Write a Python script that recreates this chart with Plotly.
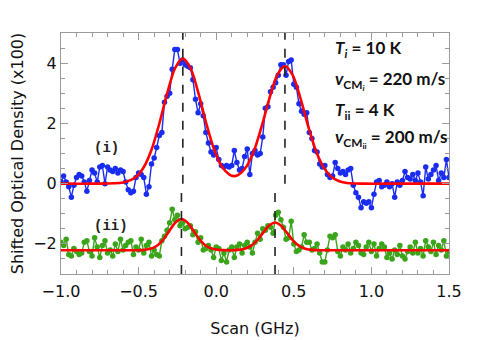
import plotly.graph_objects as go

# scan grid: -1.0 ... 1.5 GHz, 151 samples
X_START, X_STOP = -1.0, 1.5

# (i) measured optical density (x100)
od_i = [0.05, 0.25, 0.05, -0.1, -0.45, -0.05, 0.2, 0.3, 0.25, 0.05,
        -0.25, 0.1, 0.45, 0.35, 0.05, 0.55, 0.6, 0.0, 0.55, 0.45,
        0.4, 0.5, 0.35, 0.45, 0.4, 0.05, -0.2, -0.3, -0.25, 0.2,
        0.35, 0.3, 0.2, -0.35, -0.1,
        0.65, 0.85, 1.2, 1.6, 1.7, 2.7, 2.9, 3.0, 3.8, 4.45,
        4.45, 4.0, 4.1, 3.95, 3.9, 3.85, 3.45, 2.8, 2.35, 2.65,
        2.25, 1.7, 1.35, 1.05, 0.95, 1.2, 0.8, 0.6, 0.55, 0.6,
        0.55, 0.6, 1.1, 0.7, 0.45,
        0.5, 0.9, 1.15, 0.3, 1.0, 1.1, 0.95, 1.0, 1.55, 2.5,
        2.55, 3.05, 3.2, 3.35, 3.6, 3.95, 3.95, 3.6, 4.05, 4.1,
        3.3, 3.2, 2.65, 2.4, 2.3, 2.35, 1.7, 1.5, 1.1, 1.05,
        0.65, 0.55, 0.6, 0.3, 0.2,
        0.25, 0.7, 0.5, 0.35, 0.4, 0.3, 0.45, 0.5, -0.05, -0.3,
        -0.45, -0.8, -0.6, -0.65, -0.6, -0.8, -0.35, 0.05, 0.1, -0.1,
        -0.05, 0.05, -0.1, 0.0, -0.45, 0.05, -0.05, 0.1, 0.4, 0.2,
        0.15, 0.3, 0.1, 0.35, 0.05, -0.4, 0.55, 0.15, 0.3, 0.45,
        0.6, 0.1, 0.35, 0.2, 0.8, 0.2]

# (ii) measured optical density, shifted by -2.2
od_ii = [-1.95, -2.05, -1.85, -2.35, -2.4, -2.15, -2.25, -2.35, -2.3, -1.95,
         -1.9, -2.25, -2.4, -1.8, -2.1, -2.45, -2.05, -1.9, -2.3, -2.2,
         -2.4, -2.0, -2.25, -1.85, -2.2, -2.05, -1.95, -1.9, -2.35, -2.1,
         -2.2, -1.85, -2.3, -2.05, -1.95, -2.4,
         -2.2, -2.35, -2.4, -1.9, -1.75, -1.55, -1.3, -0.85, -1.2, -1.05,
         -1.4, -1.3, -1.5, -1.45, -1.4, -1.7, -1.6, -1.95, -1.8, -2.2,
         -2.15, -2.05, -2.2, -2.45, -2.1, -2.15, -2.55, -2.3, -2.6, -2.2,
         -2.1, -2.45, -2.1, -2.0, -2.3, -2.05, -1.95, -2.1, -2.3, -1.95,
         -1.65, -1.85, -1.5, -1.55, -1.4, -1.45, -1.65, -1.05, -0.95, -1.2,
         -1.45, -1.85, -1.8, -1.25, -2.0, -2.25, -2.2, -2.1, -1.7, -1.95,
         -1.95, -2.2, -2.15, -2.0, -2.3, -2.6, -2.6, -2.2, -1.75, -1.8,
         -1.7, -2.25, -2.4, -2.1,
         -2.2, -2.0, -2.3, -2.15, -1.95, -2.05, -2.3, -2.35, -2.1, -1.95,
         -2.25, -2.0, -2.4, -2.15, -2.0, -2.1, -2.45, -2.3, -2.5, -2.2,
         -2.35, -2.05, -2.4, -2.5, -2.25, -2.1, -2.3, -1.95, -2.3, -2.15,
         -2.4, -1.9, -2.1, -2.25, -1.95, -2.35, -2.05, -2.2, -1.9, -2.4,
         -2.25]

# fitted curves
fit_i_x = [-1.0, -0.8, -0.6, -0.515, -0.465, -0.415, -0.365, -0.315, -0.265, -0.215,
           -0.165, -0.115, -0.065, -0.015, 0.035, 0.085, 0.114, 0.143, 0.193, 0.243,
           0.293, 0.343, 0.393, 0.443, 0.493, 0.543, 0.593, 0.643, 0.693, 0.743,
           0.793, 0.843, 0.95, 1.2, 1.5]
fit_i_y = [0.0, 0.0, 0.04, 0.23, 0.56, 1.15, 2.02, 3.01, 3.83, 4.15,
           3.83, 3.01, 2.02, 1.16, 0.58, 0.30, 0.25, 0.29, 0.55, 1.08,
           1.90, 2.83, 3.60, 3.90, 3.60, 2.83, 1.90, 1.08, 0.53, 0.22,
           0.08, 0.02, 0.0, 0.0, 0.0]

fit_ii_x = [-1.0, -0.75, -0.5, -0.464, -0.424, -0.384, -0.344, -0.304, -0.264, -0.224,
            -0.184, -0.144, -0.104, -0.064, -0.024, 0.016, 0.099, 0.139, 0.179, 0.219,
            0.259, 0.299, 0.339, 0.379, 0.419, 0.459, 0.499, 0.539, 0.579, 0.619,
            0.659, 0.9, 1.2, 1.5]
fit_ii_y = [-2.21, -2.21, -2.21, -2.20, -2.165, -2.07, -1.875, -1.585, -1.30, -1.18,
            -1.30, -1.585, -1.875, -2.07, -2.165, -2.20, -2.21, -2.20, -2.17, -2.086,
            -1.911, -1.652, -1.399, -1.29, -1.40, -1.652, -1.911, -2.086, -2.17, -2.20,
            -2.21, -2.21, -2.21, -2.21]

# fitted peak centres (GHz)
centres_i = [-0.215, 0.443]
centres_ii = [-0.224, 0.379]

n = len(od_i)
scan = [X_START + k * (X_STOP - X_START) / (n - 1) for k in range(n)]

BLUE = "#1a2cf0"
GREEN = "#3aa41a"
RED = "#ff0000"
AXIS = "#9a9a9a"
FONT = "DejaVu Sans"

fig = go.Figure()
fig.add_trace(go.Scatter(x=scan, y=od_i, mode="lines+markers",
                         line=dict(color=BLUE, width=1.4),
                         marker=dict(color=BLUE, size=5.5)))
fig.add_trace(go.Scatter(x=scan, y=od_ii, mode="lines+markers",
                         line=dict(color=GREEN, width=1.4),
                         marker=dict(color=GREEN, size=5.5)))
fig.add_trace(go.Scatter(x=fit_i_x, y=fit_i_y, mode="lines",
                         line=dict(color=RED, width=2.6, shape="spline", smoothing=0.8)))
fig.add_trace(go.Scatter(x=fit_ii_x, y=fit_ii_y, mode="lines",
                         line=dict(color=RED, width=2.6, shape="spline", smoothing=0.8)))

for c in centres_i:
    fig.add_shape(type="line", x0=c, x1=c, y0=0.0, y1=5.0,
                  line=dict(color="#222222", width=1.6, dash="dash"))
for c in centres_ii:
    fig.add_shape(type="line", x0=c, x1=c, y0=-3.0, y1=-0.15,
                  line=dict(color="#222222", width=1.6, dash="dash"))

# peak labels
lab = dict(family="Liberation Mono", size=14, color="#222222")
fig.add_annotation(x=-0.71, y=1.18, text="<b>(i)</b>", showarrow=False, font=lab)
fig.add_annotation(x=-0.68, y=-1.39, text="<b>(ii)</b>", showarrow=False, font=lab)

info = [(4.47, "<b><i>T<sub>i</sub></i> = 10 K</b>"),
        (3.44, "<b><i>v</i><sub>CM<sub><i>i</i></sub></sub> = 220 m/s</b>"),
        (2.41, "<b><i>T</i><sub>ii</sub> = 4 K</b>"),
        (1.51, "<b><i>v</i><sub>CM<sub>ii</sub></sub> = 200 m/s</b>")]
for yy, txt in info:
    fig.add_annotation(x=0.752, y=yy, text=txt, showarrow=False, xanchor="left",
                       font=dict(family="Lato", size=17, color="#111111"))

axis_common = dict(showline=True, linecolor=AXIS, linewidth=1, mirror="allticks",
                   ticks="inside", ticklen=7, tickcolor=AXIS, tickwidth=1,
                   showgrid=False, zeroline=False, automargin=False,
                   tickfont=dict(family=FONT, size=16, color="#111111"))

fig.update_xaxes(range=[-1.0, 1.5], tickvals=[-1.0, -0.5, 0.0, 0.5, 1.0, 1.5],
                 tickformat=".1f", ticklabelstandoff=3,
                 minor=dict(dtick=0.1, ticks="inside", ticklen=4, tickcolor=AXIS),
                 title=dict(text="Scan (GHz)", font=dict(family=FONT, size=16, color="#111111"),
                            standoff=22),
                 **axis_common)
fig.update_yaxes(range=[-3.0, 5.0], tickvals=[-2, 0, 2, 4],
                 minor=dict(dtick=0.5, ticks="inside", ticklen=4, tickcolor=AXIS),
                 title=dict(text="Shifted Optical Density (x100)",
                            font=dict(family=FONT, size=16, color="#111111"), standoff=9),
                 **axis_common)

# page body adds an 8px offset, so the plot box is set 8px up/left
fig.update_layout(width=485, height=340, showlegend=False,
                  margin=dict(l=53, r=44, t=25, b=74),
                  plot_bgcolor="white", paper_bgcolor="white")

fig.write_html("out.html")
